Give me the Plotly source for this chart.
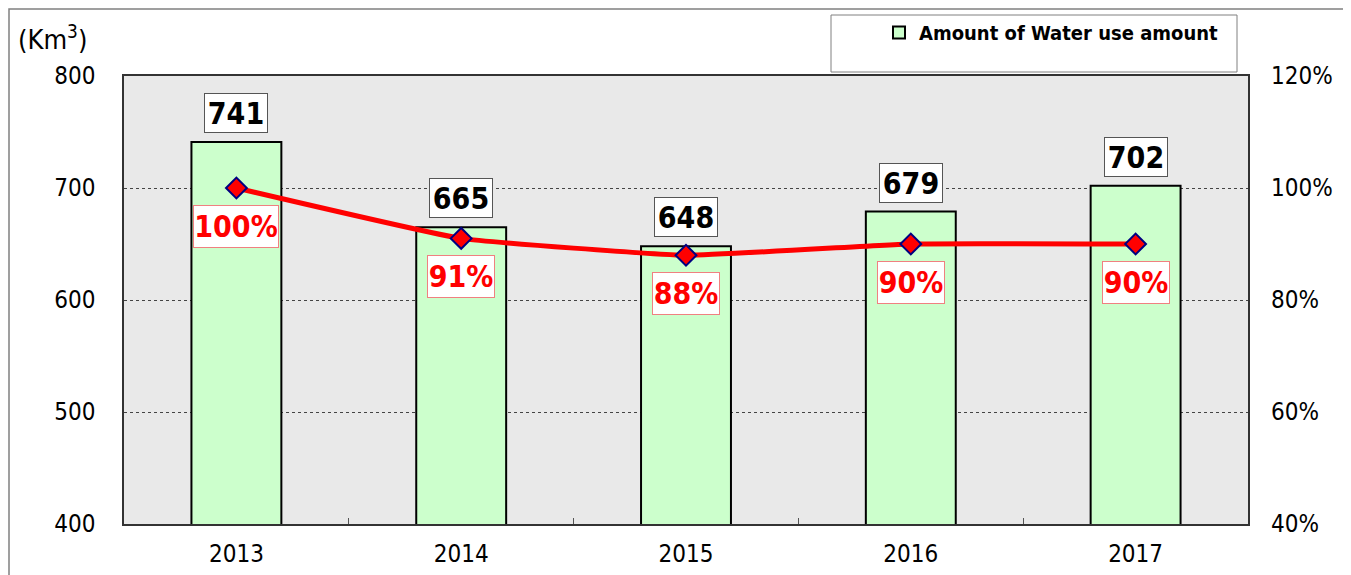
import plotly.graph_objects as go

years = ["2013", "2014", "2015", "2016", "2017"]
water_use = [741, 665, 648, 679, 702]
ratio = [1.00, 0.91, 0.88, 0.90, 0.90]
ratio_labels = ["100%", "91%", "88%", "90%", "90%"]
series_name = "Amount of Water use amount"
y_ticks = [400, 500, 600, 700, 800]
y2_ticks = [0.4, 0.6, 0.8, 1.0, 1.2]

FONT = "Liberation Sans Narrow, DejaVu Sans Condensed, Arial, sans-serif"
OFF = 8  # page body offset
PL, PR, PT, PB = 124, 1248, 76, 524  # plot area in page pixels


def px(p):
    return (p - PL) / (PR - PL)


def py(p):
    return (PB - p) / (PB - PT)


fig = go.Figure()
fig.add_trace(go.Bar(
    x=years, y=water_use, name=series_name,
    marker=dict(color="#ccffcc", line=dict(color="#000000", width=2)),
))
fig.add_trace(go.Scatter(
    x=years, y=ratio, yaxis="y2", mode="lines+markers", showlegend=False,
    line=dict(color="#ff0000", width=5, shape="spline", smoothing=0.35),
    marker=dict(symbol="diamond", size=16, color="#ff0000",
                line=dict(color="#000080", width=2)),
))

for i, v in enumerate(water_use):
    fig.add_annotation(
        x=i, y=v, xref="x", yref="y", text="<b>%d</b>" % v, showarrow=False,
        yanchor="bottom", yshift=9, width=62, height=38, borderpad=0,
        bgcolor="#ffffff", bordercolor="#555555", borderwidth=1,
        font=dict(family=FONT, size=30, color="#000000"),
    )
for i, (r, t) in enumerate(zip(ratio, ratio_labels)):
    fig.add_annotation(
        x=i, y=r, xref="x", yref="y2", text="<b>%s</b>" % t, showarrow=False,
        yanchor="top", yshift=-17, width=(84 if len(t) > 3 else 66), height=41,
        borderpad=0, bgcolor="#ffffff", bordercolor="#f08080", borderwidth=1,
        font=dict(family=FONT, size=30, color="#ff0000"),
    )

fig.add_annotation(
    x=px(16), y=py(37), xref="paper", yref="paper",
    xanchor="left", yanchor="middle",
    text="(Km<sup>3</sup>)", showarrow=False,
    font=dict(family=FONT, size=27, color="#000000"),
)

# outer figure border
fig.add_shape(type="rect", xref="paper", yref="paper",
              x0=px(9), x1=px(1346), y0=py(590), y1=py(9),
              line=dict(color="#808080", width=1.5), fillcolor="rgba(0,0,0,0)", layer="below")
# legend box
fig.add_shape(type="rect", xref="paper", yref="paper",
              x0=px(831), x1=px(1237), y0=py(72), y1=py(15),
              line=dict(color="#808080", width=1), fillcolor="#ffffff", layer="below")

fig.update_layout(
    width=1351 - OFF, height=575 - OFF,
    margin=dict(l=PL - OFF, r=1351 - PR, t=PT - OFF, b=575 - PB, autoexpand=False),
    paper_bgcolor="#ffffff", plot_bgcolor="#e9e9e9",
    font=dict(family=FONT, size=24, color="#000000"),
    bargap=0.6,
    showlegend=True,
    legend=dict(x=px(879), y=py(13), xanchor="left", yanchor="top",
                bgcolor="rgba(0,0,0,0)", borderwidth=0,
                font=dict(family=FONT, size=20, color="#000000", weight="bold")),
    xaxis=dict(type="category", categoryorder="array", categoryarray=years,
               range=[-0.5, 4.5], showline=True, linecolor="#333333", linewidth=1.5,
               mirror=True, ticks="inside", tickson="boundaries", ticklen=6,
               tickcolor="#555555", showgrid=False, tickfont=dict(size=24), tickangle=0,
               ticklabelstandoff=7),
    yaxis=dict(range=[400, 800], tickvals=y_ticks, showline=True, linecolor="#333333",
               linewidth=1.5, mirror=True, ticks="", showgrid=True,
               gridcolor="#444444", gridwidth=1, griddash="dot",
               tickfont=dict(size=24), ticklabelstandoff=22, zeroline=False),
    yaxis2=dict(range=[0.4, 1.2], tickvals=y2_ticks, tickformat=".0%", overlaying="y",
                side="right", showgrid=False, ticks="", ticklabelstandoff=22,
                tickfont=dict(size=24), zeroline=False),
)

fig.write_html("out.html")
